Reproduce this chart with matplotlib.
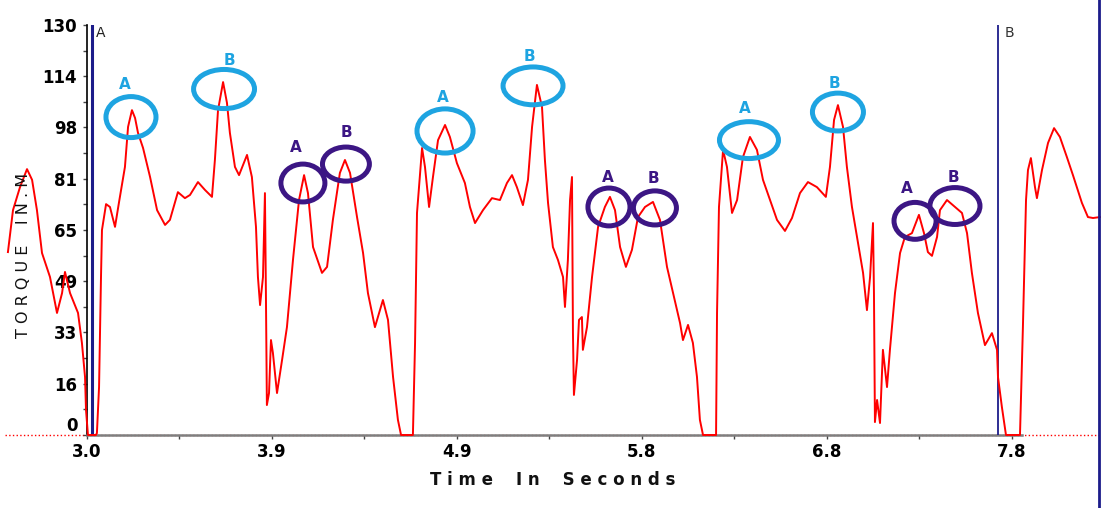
import matplotlib
matplotlib.use("Agg")
import matplotlib.pyplot as plt
import numpy as np
from matplotlib.patches import Ellipse
from matplotlib.lines import Line2D

# torque trace (seconds, in.N.m)
time_s = [2.594, 2.620, 2.656, 2.692, 2.718, 2.743, 2.769, 2.810, 2.846, 2.872,
          2.887, 2.913, 2.954, 2.974, 2.990, 2.995, 3.005, 3.046, 3.051, 3.062,
          3.072, 3.077, 3.098, 3.118, 3.144, 3.164, 3.195, 3.211, 3.231, 3.247,
          3.262, 3.288, 3.324, 3.360, 3.401, 3.426, 3.467, 3.503, 3.529, 3.570,
          3.606, 3.642, 3.657, 3.673, 3.699, 3.719, 3.734, 3.760, 3.781, 3.822,
          3.847, 3.868, 3.878, 3.889, 3.904, 3.914, 3.919, 3.924, 3.935, 3.945,
          3.955, 3.976, 4.002, 4.027, 4.058, 4.089, 4.115, 4.135, 4.161, 4.207,
          4.233, 4.263, 4.299, 4.325, 4.351, 4.387, 4.418, 4.443, 4.479, 4.520,
          4.546, 4.572, 4.597, 4.613, 4.674, 4.685, 4.695, 4.721, 4.736, 4.757,
          4.777, 4.803, 4.839, 4.864, 4.900, 4.941, 4.967, 4.993, 5.034, 5.080,
          5.121, 5.157, 5.183, 5.208, 5.239, 5.265, 5.286, 5.311, 5.337, 5.352,
          5.368, 5.393, 5.419, 5.445, 5.455, 5.470, 5.481, 5.491, 5.496, 5.501,
          5.517, 5.527, 5.542, 5.547, 5.568, 5.594, 5.625, 5.660, 5.686, 5.712,
          5.738, 5.768, 5.799, 5.830, 5.866, 5.907, 5.943, 5.979, 6.010, 6.046,
          6.061, 6.087, 6.112, 6.133, 6.148, 6.164, 6.231, 6.236, 6.246, 6.267,
          6.287, 6.313, 6.339, 6.369, 6.405, 6.441, 6.472, 6.508, 6.544, 6.585,
          6.621, 6.662, 6.703, 6.749, 6.795, 6.816, 6.837, 6.857, 6.883, 6.903,
          6.929, 6.955, 6.986, 7.006, 7.022, 7.037, 7.042, 7.047, 7.058, 7.073,
          7.088, 7.109, 7.124, 7.150, 7.176, 7.201, 7.237, 7.273, 7.299, 7.319,
          7.340, 7.366, 7.381, 7.417, 7.458, 7.494, 7.520, 7.545, 7.576, 7.612,
          7.648, 7.674, 7.679, 7.699, 7.720, 7.792, 7.807, 7.823, 7.833, 7.848,
          7.869, 7.879, 7.905, 7.936, 7.967, 7.997, 8.033, 8.064, 8.110, 8.141,
          8.167, 8.203]
torque = [58.0, 71.3, 78.6, 84.3, 80.9, 71.3, 57.7, 50.1, 38.7, 45.0,
          51.7, 45.0, 38.7, 29.2, 18.4, 7.9, 0.0, 0.0, 0.6, 15.2,
          50.1, 65.0, 73.2, 72.3, 66.0, 73.6, 85.0, 97.7, 103.0, 100.5,
          95.8, 91.0, 81.8, 71.3, 66.6, 68.2, 77.0, 75.1, 76.1, 80.2,
          77.7, 75.5, 87.2, 103.0, 111.9, 105.3, 95.8, 85.0, 82.4, 88.8,
          81.8, 66.0, 50.1, 41.2, 50.1, 76.7, 45.0, 9.5, 13.3, 30.1,
          26.0, 13.3, 23.8, 34.2, 55.5, 74.5, 82.4, 76.7, 59.6, 51.4,
          53.3, 68.2, 83.1, 87.2, 83.1, 69.1, 57.7, 45.0, 34.2, 42.8,
          36.5, 18.4, 4.8, 0.0, 0.0, 29.2, 70.4, 91.0, 85.0, 72.3,
          81.8, 93.5, 98.3, 94.5, 86.2, 79.9, 72.3, 67.2, 71.3, 75.1,
          74.5, 79.9, 82.4, 78.6, 72.9, 80.9, 97.7, 111.0, 104.0, 87.2,
          73.6, 59.6, 55.5, 50.1, 40.6, 55.5, 74.5, 81.8, 32.3, 12.7,
          23.8, 36.5, 37.4, 27.0, 34.2, 50.1, 66.0, 72.3, 75.5, 71.3,
          59.6, 53.3, 58.7, 69.1, 72.3, 73.9, 68.2, 53.3, 45.0, 35.5,
          30.1, 34.9, 29.2, 18.4, 4.8, 0.0, 0.0, 38.7, 72.3, 90.4,
          85.0, 70.4, 74.5, 88.1, 94.5, 90.4, 80.9, 74.5, 68.2, 64.7,
          68.8, 76.7, 80.2, 78.6, 75.5, 85.0, 99.9, 104.6, 97.7, 85.0,
          72.3, 62.8, 51.4, 39.6, 50.1, 67.2, 45.0, 4.1, 11.1, 3.8,
          27.0, 15.2, 27.0, 45.0, 57.7, 62.8, 64.0, 69.8, 64.0, 58.0,
          56.8, 62.8, 71.3, 74.5, 72.3, 70.4, 64.0, 51.4, 38.7, 28.5,
          32.3, 27.0, 18.4, 8.9, 0.0, 0.0, 34.2, 74.5, 84.0, 87.8,
          78.6, 75.1, 84.0, 92.6, 97.3, 94.5, 88.1, 82.4, 73.6, 69.1,
          68.8, 69.1]

# axis ticks
ytick_vals = np.linspace(0, 130, 9)
ytick_labels = ['0', '16', '33', '49', '65', '81', '98', '114', '130']
xtick_vals = [3.0, 3.95, 4.9, 5.85, 6.8, 7.75]
xtick_labels = ['3.0', '3.9', '4.9', '5.8', '6.8', '7.8']

# marked peaks: label, circle centre (time, torque), text position, group
peak_names = ['A', 'B', 'A', 'B', 'A', 'B', 'A', 'B', 'A', 'B', 'A', 'B']
peak_t = [3.226, 3.704, 4.839, 5.291, 6.400, 6.857, 4.109, 4.330, 5.681, 5.917, 7.253, 7.458]
peak_v = [100.8, 109.7, 96.4, 110.7, 93.5, 102.4, 79.9, 85.9, 72.3, 72.0, 67.9, 72.6]
name_t = [3.195, 3.734, 4.828, 5.275, 6.380, 6.837, 4.073, 4.335, 5.676, 5.907, 7.212, 7.448]
name_v = [111.0, 118.9, 106.9, 119.9, 103.4, 111.3, 91.0, 95.8, 81.8, 81.2, 78.3, 81.5]
peak_group = [0, 0, 0, 0, 0, 0, 1, 1, 1, 1, 1, 1]
circle_w = [0.257, 0.313, 0.288, 0.308, 0.303, 0.262, 0.226, 0.241, 0.216, 0.221, 0.216, 0.257]
circle_h = [13.0, 12.4, 14.0, 12.0, 11.7, 12.0, 12.0, 10.8, 12.0, 10.8, 11.7, 11.7]

# cursor positions
cursor_a = 3.026
cursor_b = 7.678

group_colors = ['#1ea4e1', '#3c1684']
navy = '#1c1c8a'

fig = plt.figure(figsize=(11.01, 5.08), dpi=100)
ax = fig.add_axes([0.079, 0.1437, 0.9201, 0.8071])

ax.set_xlim(3.0, 8.203)
ax.set_ylim(0, 130)

# zero reference line, dotted red, sticks out of the axes on the left
ax.plot([2.58, 8.203], [0, 0], ':', color='red', lw=1.0, clip_on=False, zorder=1)

ax.plot(time_s, torque, color='red', lw=1.4, clip_on=False, zorder=3)

ax.axvline(cursor_a, color=navy, lw=2.2, zorder=2.6)
ax.axvline(cursor_b, color=navy, lw=1.3, zorder=2.6)
ax.text(cursor_a + 0.02, 127.5, 'A', fontsize=10, color='#222222', va='center', ha='left')
ax.text(cursor_b + 0.035, 127.5, 'B', fontsize=10, color='#333333', va='center', ha='left')

for i in range(len(peak_names)):
    c = group_colors[peak_group[i]]
    e = Ellipse((peak_t[i], peak_v[i]), circle_w[i], circle_h[i], fill=False,
                ec=c, lw=3.6, zorder=4, clip_on=False)
    ax.add_patch(e)
    ax.text(name_t[i], name_v[i], peak_names[i], color=c, fontsize=11,
            fontweight='bold', ha='center', va='center', zorder=5)

for s in ['top', 'right']:
    ax.spines[s].set_visible(False)
ax.spines['left'].set_color('black')
ax.spines['left'].set_linewidth(1.2)
ax.spines['bottom'].set_color('#7f7f7f')
ax.spines['bottom'].set_linewidth(1.8)
ax.spines['bottom'].set_bounds(3.0, 7.8)

ax.set_yticks(ytick_vals)
ax.set_yticklabels(ytick_labels)
ax.set_yticks(ytick_vals[:-1] + 8.125, minor=True)
ax.set_xticks(xtick_vals)
ax.set_xticklabels(xtick_labels)
ax.set_xticks(np.array(xtick_vals[:-1]) + 0.475, minor=True)
ax.tick_params(which='both', direction='out', length=3, width=1, color='#444444')
ax.tick_params(axis='y', pad=4)
ax.tick_params(axis='x', pad=3)
for lab in ax.get_yticklabels() + ax.get_xticklabels():
    lab.set_fontweight('bold')
    lab.set_fontsize(12)
    lab.set_family('DejaVu Sans')
# lift the "0" a little so it sits just above the 3.0
ax.get_yticklabels()[0].set_verticalalignment('bottom')

fig.text(0.502, 0.055, 'T i m e    I n    S e c o n d s', ha='center', va='center',
         fontsize=12, fontweight='bold', color='#111111')
fig.text(0.021, 0.497, 'T O R Q U E    I N . M', ha='center', va='center',
         rotation=90, fontsize=11.5, color='#111111')

fig.add_artist(Line2D([0.9985, 0.9985], [0, 1], transform=fig.transFigure,
                      color=navy, lw=2))

fig.savefig('out.png', dpi=100)
